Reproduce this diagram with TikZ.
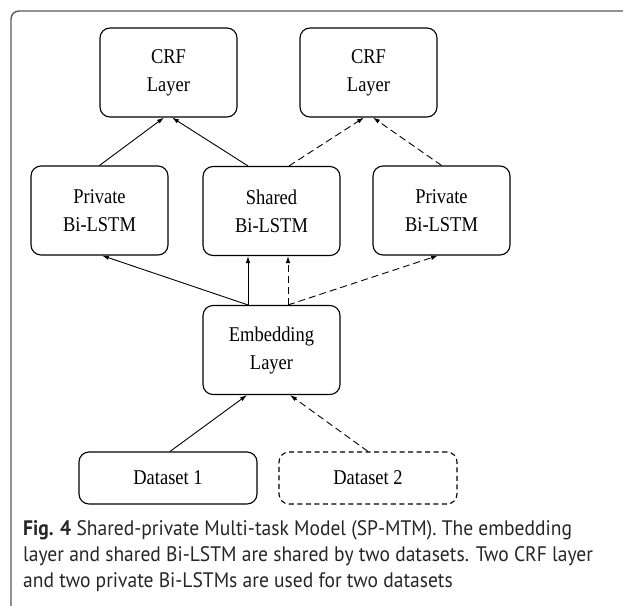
\documentclass[tikz,border=0pt]{standalone}
\usepackage{fontspec}
\setmainfont{Liberation Serif}
\newfontfamily\boxfont[FakeStretch=0.88]{Liberation Serif}
\newfontfamily\capfont[FakeStretch=0.93]{PT Sans}
\usetikzlibrary{arrows.meta}

\tikzset{
  box/.style={shape=rectangle,rounded corners=10pt,draw=black,line width=1.1pt,
    minimum width=137pt,minimum height=89pt,align=center,
    font=\boxfont\fontsize{21}{28}\selectfont},
  databox/.style={box,minimum width=178pt,minimum height=52pt},
  link/.style={-{Latex[length=7pt,width=4.5pt]},line width=0.9pt},
  dlink/.style={link,dash pattern=on 7pt off 4pt}
}

\begin{document}
\begin{tikzpicture}[x=1pt,y=-1pt]
      \path[use as bounding box] (0,0) rectangle (623,605);
      \clip (0,0) rectangle (623,605);
      \draw[line width=1.4pt,draw=black!65,rounded corners=8pt] (11,11) rectangle (660,660);
      % layers
      \node[box] (crfa) at (168.5,72.5) {CRF\\Layer};
      \node[box] (crfb) at (368.5,72.5) {CRF\\Layer};
      \node[box] (priva) at (99.5,210.5) {Private\\Bi-LSTM};
      \node[box] (shared) at (271.5,211) {Shared\\Bi-LSTM};
      \node[box] (privb) at (441.5,210.5) {Private\\Bi-LSTM};
      \node[box] (embed) at (271.5,350) {Embedding\\Layer};
      \node[databox] (dsa) at (168,478) {Dataset 1};
      \node[databox,dash pattern=on 5pt off 3.5pt] (dsb) at (368,478) {Dataset 2};
      % end points
      \coordinate[xshift=-4.5pt] (crfa1) at (crfa.south);
      \coordinate[xshift=3.5pt] (crfa2) at (crfa.south);
      \coordinate[xshift=-4.5pt] (crfb1) at (crfb.south);
      \coordinate[xshift=4.5pt] (crfb2) at (crfb.south);
      \coordinate[xshift=-23.5pt] (sh1) at (shared.north);
      \coordinate[xshift=17.5pt] (sh2) at (shared.north);
      \coordinate[xshift=-23.5pt] (sh3) at (shared.south);
      \coordinate[xshift=16.5pt] (sh4) at (shared.south);
      \coordinate[xshift=2.5pt] (pa1) at (priva.south);
      \coordinate[xshift=-3.5pt] (pb1) at (privb.south);
      \coordinate[xshift=-23.5pt] (em1) at (embed.north);
      \coordinate[xshift=16.5pt] (em2) at (embed.north);
      \coordinate[xshift=-24.5pt] (em3) at (embed.south);
      \coordinate[xshift=18.5pt] (em4) at (embed.south);
      \coordinate[xshift=2pt] (da1) at (dsa.north);
      % bi-lstm -> crf
      \draw[link] (priva.north) -- (crfa1);
      \draw[link] (sh1) -- (crfa2);
      \draw[dlink] (sh2) -- (crfb1);
      \draw[dlink] (privb.north) -- (crfb2);
      % embedding -> bi-lstm
      \draw[link] (em1) -- (pa1);
      \draw[link] (em1) -- (sh3);
      \draw[dlink] (em2) -- (sh4);
      \draw[dlink] (em2) -- (pb1);
      % datasets -> embedding
      \draw[link] (da1) -- (em3);
      \draw[dlink] (dsb.north) -- (em4);
      % caption
      \node[anchor=north west,align=left,inner sep=0pt,text=black!85,
        font=\capfont\fontsize{21}{26}\selectfont] (caption) at (23,520)
        {\textbf{Fig. 4} Shared-private Multi-task Model (SP-MTM). The embedding\\
        layer and shared Bi-LSTM are shared by two datasets. Two CRF layer\\
        and two private Bi-LSTMs are used for two datasets};
\end{tikzpicture}
\end{document}
